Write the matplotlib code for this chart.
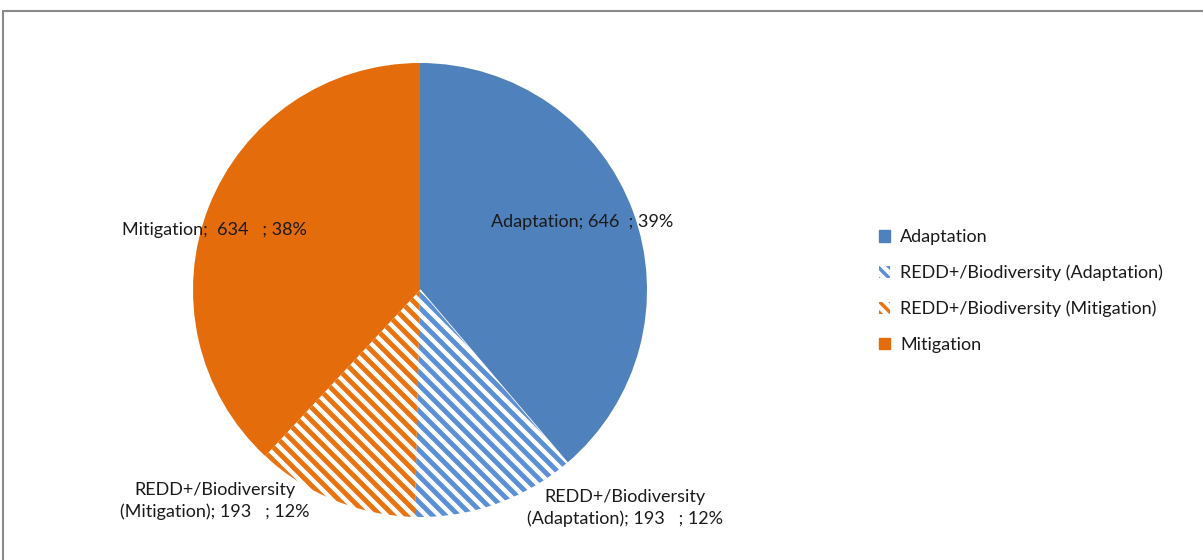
import matplotlib.pyplot as plt
import numpy as np
from matplotlib.patches import Patch, Rectangle

plt.rcParams['font.family'] = ['Lato', 'DejaVu Sans']
plt.rcParams['hatch.linewidth'] = 2.5

categories = ['Adaptation', 'REDD+/Biodiversity (Adaptation)',
              'REDD+/Biodiversity (Mitigation)', 'Mitigation']
values = [646, 193, 193, 634]
solid_colors = ['#4F81BD', 'white', 'white', '#E46C0A']
stripe_colors = [None, '#5B8FD6', '#E8730F', None]
point_labels = ['Adaptation; 646  ; 39%',
                'REDD+/Biodiversity\n(Adaptation); 193   ; 12%',
                'REDD+/Biodiversity\n(Mitigation); 193   ; 12%',
                'Mitigation;  634   ; 38%']

W, H = 1203, 560
fig = plt.figure(figsize=(W / 100, H / 100), dpi=100)

# pie center and radius in pixels
cx, cy, r = 420, 290, 227
ax = fig.add_axes([(cx - r) / W, (H - cy - r) / H, 2 * r / W, 2 * r / H])

wedges, _ = ax.pie(values, colors=solid_colors, startangle=90, counterclock=False,
                   radius=1, wedgeprops=dict(linewidth=0))

# diagonal stripes for the REDD+ slices
step = 13 / r
xs = np.array([-1.2, 1.2])
for w, sc in zip(wedges, stripe_colors):
    if sc is None:
        continue
    w.set_edgecolor('white')
    w.set_linewidth(1.2)
    for c in np.arange(-3, 3, step):
        ln, = ax.plot(xs, -xs + c, color=sc, lw=3.5, solid_capstyle='butt')
        ln.set_clip_path(w)

ax.set_xlim(-1, 1)
ax.set_ylim(-1, 1)
ax.axis('off')


def px(x, y):
    return (x - cx) / r, (cy - y) / r


fs = 13
tc = '#1a1a1a'
ax.text(*px(491, 222), point_labels[0], ha='left', va='center', fontsize=fs, color=tc)
ax.text(*px(307, 230), point_labels[3], ha='right', va='center', fontsize=fs, color=tc)
ax.text(*px(625, 508), point_labels[1], ha='center', va='center', fontsize=fs,
        color=tc, linespacing=1.4)
ax.text(*px(215, 501), point_labels[2], ha='center', va='center', fontsize=fs,
        color=tc, linespacing=1.4)

handles = []
for sc_fill, sc in zip(solid_colors, stripe_colors):
    if sc is None:
        handles.append(Patch(facecolor=sc_fill, edgecolor=sc_fill))
    else:
        handles.append(Patch(facecolor='white', edgecolor=sc, hatch='\\\\\\', linewidth=0))

fig.legend(handles, categories, loc='center left', bbox_to_anchor=(863 / W, 1 - 291 / H),
           frameon=False, fontsize=fs, handlelength=0.6, handleheight=0.6,
           handletextpad=0.55, labelspacing=1.08, labelcolor=tc)

fig.patches.append(Rectangle((3 / W, -0.1), 1.2, 1 - 11 / H + 0.1, transform=fig.transFigure,
                             fill=False, edgecolor='#8a8a8a', linewidth=1.5))

fig.savefig('out.png', dpi=100)
